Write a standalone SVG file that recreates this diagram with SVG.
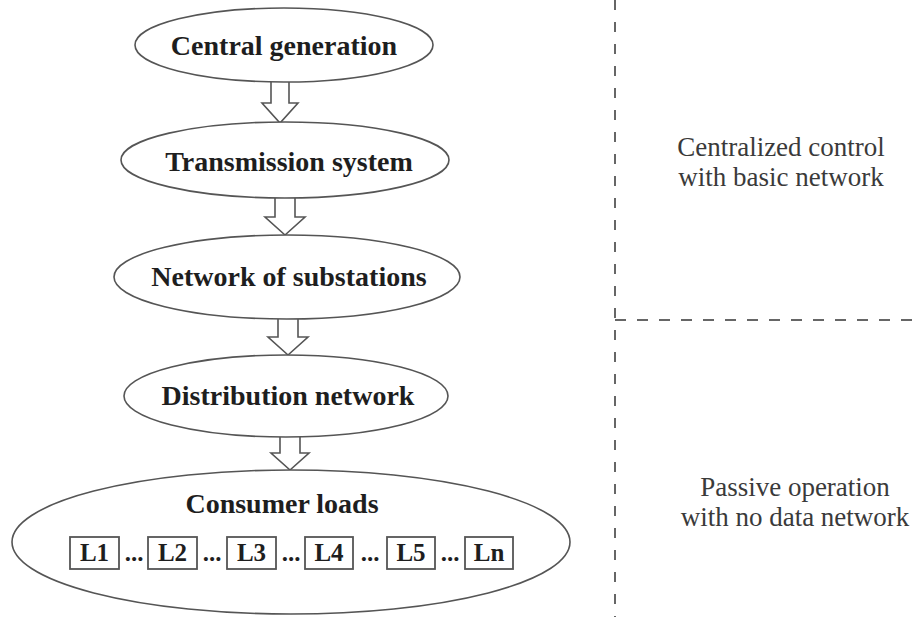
<svg xmlns="http://www.w3.org/2000/svg" width="917" height="617" viewBox="0 0 917 617">
<style>
.node{fill:#fff;stroke:#555;stroke-width:1.6}
.lbl{font-family:"Liberation Serif","Times New Roman",serif;font-weight:bold;font-size:28px;fill:#1e1e1e;text-anchor:middle}
.box{fill:#fff;stroke:#555;stroke-width:1.8}
.ld{font-family:"Liberation Serif","Times New Roman",serif;font-weight:bold;font-size:25px;fill:#1e1e1e;text-anchor:middle}
.arr{fill:#fff;stroke:#555;stroke-width:1.6;stroke-linejoin:miter}
.side{font-family:"Liberation Serif","Times New Roman",serif;font-size:27px;fill:#3a3a3a;text-anchor:middle}
.dv{stroke:#666;stroke-width:2;stroke-dasharray:10 12;fill:none}
.dh{stroke:#666;stroke-width:2;stroke-dasharray:11 11;fill:none}
</style>
<rect width="917" height="617" fill="#fff"/>
<g id="connectors">
<path class="arr" d="M271,82 V103 H262 L280,123 L298,103 H289 V82"/>
<path class="arr" d="M275,198 V217 H265 L285,235 L305,217 H295 V198"/>
<path class="arr" d="M278,319 V337 H268 L288,355 L308,337 H298 V319"/>
<path class="arr" d="M280,437 V453 H271 L290,470 L309,453 H300 V437"/>
</g>
<g id="central-generation">
<ellipse class="node" cx="284" cy="45" rx="149" ry="37"/>
<text class="lbl" x="284" y="55">Central generation</text>
</g>
<g id="transmission-system">
<ellipse class="node" cx="285" cy="160" rx="164" ry="38"/>
<text class="lbl" x="289" y="171">Transmission system</text>
</g>
<g id="network-of-substations">
<ellipse class="node" cx="287" cy="277" rx="173" ry="42"/>
<text class="lbl" x="289" y="286">Network of substations</text>
</g>
<g id="distribution-network">
<ellipse class="node" cx="286" cy="396" rx="162" ry="41"/>
<text class="lbl" x="288" y="405">Distribution network</text>
</g>
<g id="consumer-loads">
<ellipse class="node" cx="291" cy="542" rx="279" ry="72"/>
<text class="lbl" x="282" y="513">Consumer loads</text>
<rect class="box" x="70" y="537" width="49" height="32"/>
<text class="ld" x="94.5" y="561">L1</text>
<text class="ld" x="134" y="561">...</text>
<rect class="box" x="148" y="537" width="49" height="32"/>
<text class="ld" x="172.5" y="561">L2</text>
<text class="ld" x="212" y="561">...</text>
<rect class="box" x="227" y="537" width="49" height="32"/>
<text class="ld" x="251.5" y="561">L3</text>
<text class="ld" x="291" y="561">...</text>
<rect class="box" x="305" y="537" width="48" height="32"/>
<text class="ld" x="329" y="561">L4</text>
<text class="ld" x="370" y="561">...</text>
<rect class="box" x="387" y="537" width="48" height="32"/>
<text class="ld" x="411" y="561">L5</text>
<text class="ld" x="450" y="561">...</text>
<rect class="box" x="465" y="537" width="48" height="32"/>
<text class="ld" x="489" y="561">Ln</text>
</g>
<g id="dividers">
<line class="dv" x1="615" y1="0" x2="615" y2="617"/>
<line class="dh" x1="615" y1="320" x2="917" y2="320"/>
</g>
<g id="zone-labels">
<text class="side" x="781" y="156">Centralized control</text>
<text class="side" x="781" y="186">with basic network</text>
<text class="side" x="795" y="496">Passive operation</text>
<text class="side" x="795" y="526">with no data network</text>
</g>
</svg>
